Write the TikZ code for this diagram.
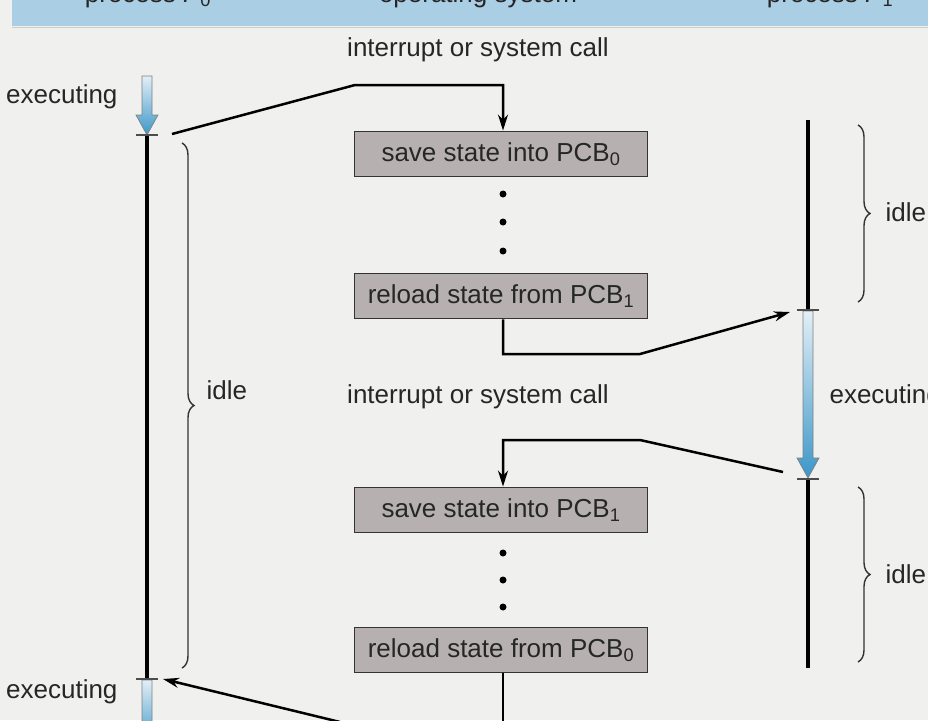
\documentclass[tikz,border=0pt]{standalone}
\usepackage{fontspec}
\setmainfont{Liberation Sans}
\usetikzlibrary{arrows.meta,decorations.pathreplacing}
\definecolor{bg}{RGB}{240,240,239}
\definecolor{band}{RGB}{170,206,228}
\definecolor{boxf}{RGB}{182,176,176}
\definecolor{blu}{RGB}{60,150,200}
\begin{document}
\begin{tikzpicture}[x=1pt,y=-1pt,
  lbl/.style={font=\fontsize{26}{28}\selectfont, text=black!85},
  box/.style={draw=black!80,line width=1.8pt,fill=boxf,minimum width=293pt,minimum height=45pt,inner sep=0pt,font=\fontsize{26}{28}\selectfont, text=black!85},
  tl/.style={line width=4pt,black},
  con/.style={line width=2.5pt,black},
  arr/.style={con,-{Stealth[length=16pt,width=10pt]}},
  brc/.style={draw=black!80,line width=1.4pt,decorate,decoration={brace,amplitude=12pt}},
  dot/.style={circle,fill=black,inner sep=0pt,minimum size=7pt},
  tick/.style={line width=1.4pt,black!70}]
\useasboundingbox (0,0) rectangle (928,720);
\clip (0,0) rectangle (928,720);
\fill[bg] (0,0) rectangle (928,720);
\fill[band] (12,-5) rectangle (928,26);
\draw[black!20,line width=1pt] (12,27) -- (928,27);
\node[lbl] (h0) at (148,-4) {process \textit{P}\textsubscript{0}};
\node[lbl] (h1) at (478,-4) {operating system};
\node[lbl] (h2) at (830,-4) {process \textit{P}\textsubscript{1}};
% blue arrows
\newcommand{\bluearrow}[3]{% x, ytop, ybottom
  \shade[top color=blu!15,bottom color=blu] (#1-5,#2) -- (#1+5,#2) -- (#1+5,#3-20) -- (#1+11,#3-20) -- (#1,#3) -- (#1-11,#3-20) -- (#1-5,#3-20) -- cycle;
  \draw[black!50,line width=0.7pt] (#1-5,#2) -- (#1+5,#2) -- (#1+5,#3-20) -- (#1+11,#3-20) -- (#1,#3) -- (#1-11,#3-20) -- (#1-5,#3-20) -- cycle;}
\bluearrow{147}{76}{135}
\bluearrow{147}{680}{745}
\bluearrow{808}{311}{478}
% timelines
\coordinate (p0a) at (147,135);
\coordinate (p0b) at (147,678);
\draw[tl] (p0a) -- (p0b);
\draw[tick] (136,135) -- (158,135);
\draw[tick] (136,679) -- (158,679);
\coordinate (p1a) at (808,120);
\coordinate (p1b) at (808,310);
\coordinate (p1c) at (808,478);
\coordinate (p1d) at (808,668);
\draw[tl] (p1a) -- (p1b);
\draw[tl] (p1c) -- (p1d);
\draw[tick] (797,310) -- (819,310);
\draw[tick] (797,479) -- (819,479);
% braces
\draw[brc] (182,143) -- (182,668);
\draw[brc] (858,125) -- (858,302);
\draw[brc] (858,487) -- (858,662);
\node[lbl,anchor=west] (i0) at (203,390) {idle};
\node[lbl,anchor=west] (i1) at (882,212) {idle};
\node[lbl,anchor=west] (i2) at (882,574) {idle};
\node[lbl,anchor=east] (e0) at (121,97) {executing};
\node[lbl,anchor=east] (e1) at (121,692) {executing};
\node[lbl,anchor=west] (e2) at (826,397) {executing};
% OS column
\node[lbl] (t1) at (478,50) {interrupt or system call};
\node[lbl] (t2) at (478,397) {interrupt or system call};
\node[box] (b1) at (501,154) {save state into PCB\textsubscript{0}};
\node[box] (b2) at (501,296) {reload state from PCB\textsubscript{1}};
\node[box] (b3) at (501,510) {save state into PCB\textsubscript{1}};
\node[box] (b4) at (501,650) {reload state from PCB\textsubscript{0}};
\foreach \y [count=\i] in {194,222,251} \node[dot] (d\i) at (503,\y) {};
\foreach \y [count=\i] in {553,580,607} \node[dot] (e\i) at (503,\y) {};
% connectors
\coordinate (c1) at (172,134);
\coordinate (k1) at (503,85);
\draw[arr] (c1) -- (355,85) -- (k1) -- (k1 |- b1.north);
\coordinate (c2) at (790,312);
\coordinate (k2) at (503,354);
\draw[arr] (k2 |- b2.south) -- (k2) -- (640,354) -- (c2);
\coordinate (c3) at (783,472);
\coordinate (k3) at (503,440);
\draw[arr] (c3) -- (640,440) -- (k3) -- (k3 |- b3.north);
\coordinate (c4) at (340,722);
\coordinate (c5) at (163,679);
\coordinate (k4) at (503,730);
\draw[con] (k4 |- b4.south) -- (k4);
\draw[arr] (c4) -- (c5);
\end{tikzpicture}
\end{document}
